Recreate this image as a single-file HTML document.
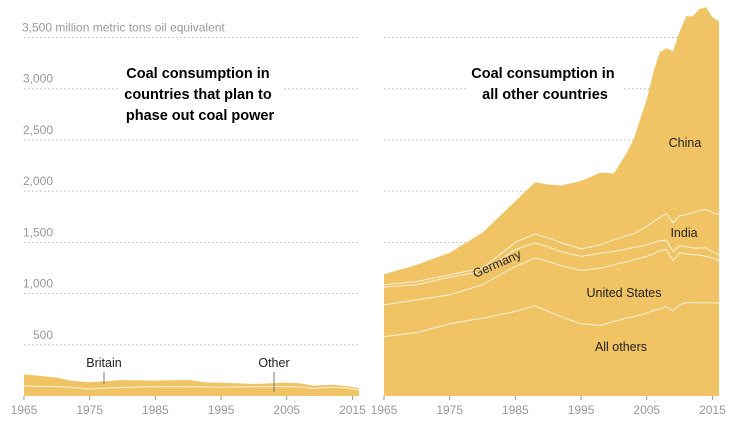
<!DOCTYPE html>
<html><head><meta charset="utf-8"><style>
html,body{margin:0;padding:0;background:#fff;}
svg{display:block;font-family:"Liberation Sans",sans-serif;}
</style></head><body>
<svg id="chart" width="740" height="430" viewBox="0 0 740 430"></svg>
<script>
// ---- data ----
const yTicks = [500, 1000, 1500, 2000, 2500, 3000, 3500];
const yTickLabels = ["500", "1,000", "1,500", "2,000", "2,500", "3,000", "3,500 million metric tons oil equivalent"];
const xTicks = [1965, 1975, 1985, 1995, 2005, 2015];

const leftYears = [1965,1970,1972,1975,1980,1985,1990,1993,1995,2000,2005,2007,2009,2012,2014,2016];
const leftOther = [98,91,86,68,85,91,91,88,85,91,91,88,75,85,78,59];
const leftBritain = [114,88,64,66,71,59,66,42,45,26,39,36,25,25,20,17];

const rightYears = [1965,1970,1975,1980,1985,1988,1990,1992,1995,1998,2000,2002,2003,2005,2006,2007,2008,2009,2010,2011,2012,2013,2014,2015,2016];
const allOthers = [580,619,705,760,825,881,825,773,705,688,727,763,773,809,832,851,874,832,890,910,913,910,913,910,907];
const unitedStates = [310,320,283,326,440,466,489,499,521,561,555,548,558,554,557,568,555,492,506,479,467,465,450,440,407];
const germany = [174,147,173,130,164,147,141,137,137,147,130,127,117,114,108,98,91,88,72,69,65,70,82,59,66];
const india = [22,32,23,33,71,88,88,88,72,81,114,128,137,180,206,225,261,278,293,313,343,365,375,382,391];
const china = [103,164,215,346,401,505,522,558,664,705,646,812,920,1239,1457,1614,1614,1676,1791,1937,1920,1967,1976,1908,1888];

// ---- scales ----
const Y0 = 396, K = (396 - 37.5) / 3500;
const y = v => Y0 - v * K;
const PW = 335;
const xL = yr => 24 + (yr - 1965) * PW / 51;
const xR = yr => 384 + (yr - 1965) * PW / 51;

const svg = document.getElementById('chart');
const NS = 'http://www.w3.org/2000/svg';
function mk(tag, attrs, parent) {
  const e = document.createElementNS(NS, tag);
  for (const k in attrs) e.setAttribute(k, attrs[k]);
  (parent || svg).appendChild(e);
  return e;
}

// gridlines + y labels
yTicks.forEach((t, i) => {
  const g1 = mk('line', {x1: 24, x2: 359, y1: y(t), y2: y(t), stroke: '#bbb', 'stroke-dasharray': '1.5,2.5', 'stroke-width': 1});
  
  
  const g2 = mk('line', {x1: 384, x2: 720, y1: y(t), y2: y(t), stroke: '#bbb', 'stroke-dasharray': '1.5,2.5', 'stroke-width': 1});
  
  
  const last = i === yTicks.length - 1;
  const tx = mk('text', {x: last ? 22 : 53, y: y(t) - 6, 'font-size': 12, fill: '#999', 'text-anchor': last ? 'start' : 'end'});
  tx.textContent = yTickLabels[i];
  
  
});

// stacked areas
function stack(years, series, xf, name) {
  let base = years.map(() => 0);
  const tops = [];
  series.forEach((s, si) => {
    const top = base.map((b, i) => b + s[i]);
    let d = 'M' + years.map((yr, i) => xf(yr).toFixed(2) + ',' + y(top[i]).toFixed(2)).join('L');
    for (let i = years.length - 1; i >= 0; i--) d += 'L' + xf(years[i]).toFixed(2) + ',' + y(base[i]).toFixed(2);
    const p = mk('path', {d: d + 'Z', fill: '#f0c464', stroke: 'none'});
    
    
    tops.push(top);
    base = top;
  });
  tops.slice(0, -1).forEach(top => {
    const l = mk('polyline', {points: years.map((yr, i) => xf(yr).toFixed(2) + ',' + y(top[i]).toFixed(2)).join(' '), fill: 'none', stroke: '#fff', 'stroke-opacity': 0.75, 'stroke-width': 1});
    
    
  });
}
stack(leftYears, [leftOther, leftBritain], xL, 'left');
stack(rightYears, [allOthers, unitedStates, germany, india, china], xR, 'right');

// x ticks
xTicks.forEach(t => {
  [xL, xR].forEach((xf, j) => {
    const tk = mk('line', {x1: xf(t), x2: xf(t), y1: Y0, y2: Y0 + 4, stroke: '#999'});
    
    
    const tx = mk('text', {x: xf(t), y: 414, 'font-size': 12, fill: '#999', 'text-anchor': 'middle'});
    tx.textContent = t;
    
    
  });
});
</script>
<svg width="740" height="430" viewBox="0 0 740 430" style="position:absolute;left:0;top:0;font-family:'Liberation Sans',sans-serif">
  <rect x="118" y="60" width="166" height="66" fill="#fff"/>
  <text font-size="14.5" font-weight="bold" fill="#000" text-anchor="middle">
    <tspan x="200" y="78">Coal consumption in</tspan>
    <tspan x="200" y="99">countries that plan to</tspan>
    <tspan x="200" y="120">phase out coal power</tspan>
  </text>
  <rect x="468" y="60" width="154" height="46" fill="#fff"/>
  <text font-size="14.5" font-weight="bold" fill="#000" text-anchor="middle">
    <tspan x="545" y="78">Coal consumption in</tspan>
    <tspan x="545" y="99">all other countries</tspan>
  </text>
  <text x="685" y="147" font-size="12.5" fill="#222" text-anchor="middle">China</text>
  <text x="684" y="237" font-size="12.5" fill="#222" text-anchor="middle">India</text>
  <text x="624" y="297" font-size="12.5" fill="#222" text-anchor="middle">United States</text>
  <text x="621" y="351" font-size="12.5" fill="#222" text-anchor="middle">All others</text>
  <text x="497" y="268" font-size="12.5" fill="#222" text-anchor="middle" transform="rotate(-24 497 264)">Germany</text>
  <text x="104" y="367" font-size="12.5" fill="#222" text-anchor="middle">Britain</text>
  <line x1="104" x2="104" y1="372" y2="384" stroke="#777"/>
  <text x="274" y="367" font-size="12.5" fill="#222" text-anchor="middle">Other</text>
  <line x1="274" x2="274" y1="372" y2="392" stroke="#777"/>
</svg>
</body></html>
